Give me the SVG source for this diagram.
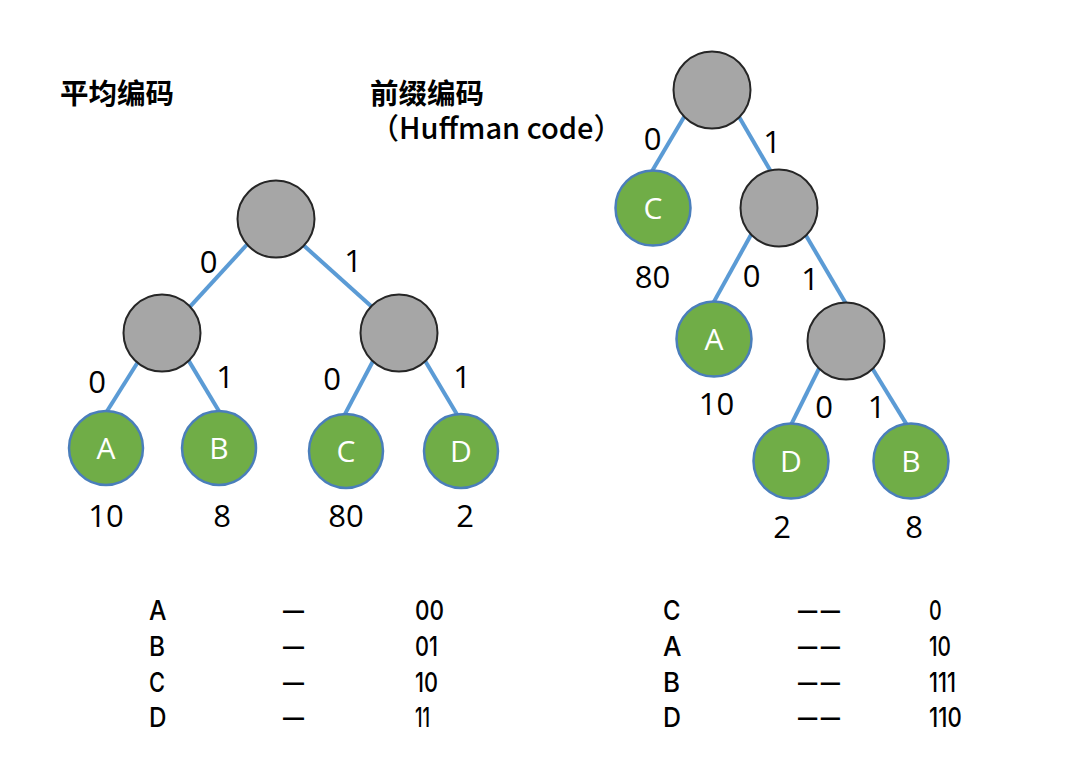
<svg xmlns="http://www.w3.org/2000/svg" width="1065" height="779" viewBox="0 0 1065 779">
<style>
.bg{fill:#ffffff}
.edge{stroke:#5B9BD5;stroke-width:4;fill:none;stroke-linecap:butt}
.inner{fill:#A6A6A6;stroke:#262626;stroke-width:2}
.leaf{fill:#70AD47;stroke:#4A7EBB;stroke-width:2.5}
.nl{font-family:"Open Sans","Noto Sans",sans-serif;font-size:30px;fill:#ffffff;text-anchor:middle}
.lbl{font-family:"Open Sans","Noto Sans",sans-serif;font-size:31px;fill:#000000;text-anchor:middle}
.title{font-family:"Noto Sans CJK SC","Noto Sans",sans-serif;font-size:28.5px;font-weight:700;fill:#000000}
.sub{font-family:"Noto Sans CJK SC","Noto Sans",sans-serif;font-size:29px;font-weight:500;fill:#000000}
.tb{font-family:Inter,"Liberation Sans",sans-serif;font-size:27px;font-weight:500;fill:#000000}
</style>
<rect class="bg" x="0" y="0" width="1065" height="779"/>

<g id="titles">
<text class="title" x="60" y="104">平均编码</text>
<text class="title" x="370" y="104">前缀编码</text>
<text class="sub" x="370" y="139">（Huffman code）</text>
</g>

<g id="connectors">
<line class="edge" x1="248.4" y1="243" x2="186.6" y2="310.4"/>
<line class="edge" x1="301.3" y1="243.3" x2="375.4" y2="310"/>
<line class="edge" x1="138.7" y1="360.8" x2="104" y2="416"/>
<line class="edge" x1="186.7" y1="357.4" x2="221.9" y2="416"/>
<line class="edge" x1="375" y1="357.3" x2="342.7" y2="418.4"/>
<line class="edge" x1="423.1" y1="357.4" x2="459.3" y2="418.3"/>
<line class="edge" x1="685.8" y1="114" x2="650.2" y2="174.3"/>
<line class="edge" x1="736.8" y1="113" x2="772.5" y2="174.3"/>
<line class="edge" x1="752.4" y1="232.3" x2="711.9" y2="305.4"/>
<line class="edge" x1="804.2" y1="232.4" x2="847.5" y2="306.3"/>
<line class="edge" x1="820.5" y1="365.5" x2="789.5" y2="427.8"/>
<line class="edge" x1="870.7" y1="365.7" x2="908.6" y2="427.6"/>
</g>

<g id="edge-labels">
<text class="lbl" x="208.5" y="273">0</text>
<text class="lbl" x="353" y="272">1</text>
<text class="lbl" x="97" y="393">0</text>
<text class="lbl" x="225" y="388">1</text>
<text class="lbl" x="332" y="390">0</text>
<text class="lbl" x="462" y="388">1</text>
<text class="lbl" x="652.5" y="150">0</text>
<text class="lbl" x="772" y="152.5">1</text>
<text class="lbl" x="751.5" y="286.5">0</text>
<text class="lbl" x="810" y="290">1</text>
<text class="lbl" x="824" y="418">0</text>
<text class="lbl" x="876.5" y="418">1</text>
</g>

<g id="L-root"><circle class="inner" cx="276" cy="219" r="38.5"/></g>
<g id="L-n0"><circle class="inner" cx="162" cy="333" r="38.5"/></g>
<g id="L-n1"><circle class="inner" cx="399" cy="333" r="38.5"/></g>
<g id="L-A"><circle class="leaf" cx="106" cy="448" r="37"/><text class="nl" x="106" y="459">A</text><text class="lbl" x="106" y="527">10</text></g>
<g id="L-B"><circle class="leaf" cx="219" cy="448" r="37"/><text class="nl" x="219" y="459">B</text><text class="lbl" x="222" y="527">8</text></g>
<g id="L-C"><circle class="leaf" cx="346" cy="451" r="37"/><text class="nl" x="346" y="462">C</text><text class="lbl" x="346" y="527">80</text></g>
<g id="L-D"><circle class="leaf" cx="461" cy="451" r="37"/><text class="nl" x="461" y="462">D</text><text class="lbl" x="465" y="527">2</text></g>

<g id="R-root"><circle class="inner" cx="712" cy="90" r="38.5"/></g>
<g id="R-C"><circle class="leaf" cx="653" cy="208" r="37.5"/><text class="nl" x="653" y="219">C</text><text class="lbl" x="652.5" y="288">80</text></g>
<g id="R-n1"><circle class="inner" cx="779" cy="208" r="38.5"/></g>
<g id="R-A"><circle class="leaf" cx="714" cy="339" r="37.5"/><text class="nl" x="714" y="350">A</text><text class="lbl" x="716.5" y="415">10</text></g>
<g id="R-n11"><circle class="inner" cx="846" cy="341" r="38.5"/></g>
<g id="R-D"><circle class="leaf" cx="791" cy="461" r="37.5"/><text class="nl" x="791" y="472">D</text><text class="lbl" x="782" y="538">2</text></g>
<g id="R-B"><circle class="leaf" cx="911" cy="461" r="37.5"/><text class="nl" x="911" y="472">B</text><text class="lbl" x="914" y="538">8</text></g>

<g id="table-left">
<text class="tb" x="149" y="620" textLength="17.5" lengthAdjust="spacingAndGlyphs">A</text>
<text class="tb" x="283" y="620" textLength="21" lengthAdjust="spacingAndGlyphs">—</text>
<text class="tb" x="415" y="620" textLength="29" lengthAdjust="spacingAndGlyphs">00</text>
<text class="tb" x="149" y="655.5" textLength="16" lengthAdjust="spacingAndGlyphs">B</text>
<text class="tb" x="283" y="655.5" textLength="21" lengthAdjust="spacingAndGlyphs">—</text>
<text class="tb" x="415" y="655.5" textLength="23" lengthAdjust="spacingAndGlyphs">01</text>
<text class="tb" x="149" y="691.5" textLength="16" lengthAdjust="spacingAndGlyphs">C</text>
<text class="tb" x="283" y="691.5" textLength="21" lengthAdjust="spacingAndGlyphs">—</text>
<text class="tb" x="415" y="691.5" textLength="23" lengthAdjust="spacingAndGlyphs">10</text>
<text class="tb" x="149" y="727" textLength="17.5" lengthAdjust="spacingAndGlyphs">D</text>
<text class="tb" x="283" y="727" textLength="21" lengthAdjust="spacingAndGlyphs">—</text>
<text class="tb" x="415" y="727" textLength="15" lengthAdjust="spacingAndGlyphs">11</text>
</g>

<g id="table-right">
<text class="tb" x="663" y="620" textLength="17.5" lengthAdjust="spacingAndGlyphs">C</text>
<text class="tb" x="798" y="620" textLength="45.5" lengthAdjust="spacingAndGlyphs" letter-spacing="5">——</text>
<text class="tb" x="929" y="620" textLength="12.7" lengthAdjust="spacingAndGlyphs">0</text>
<text class="tb" x="663" y="655.5" textLength="18.5" lengthAdjust="spacingAndGlyphs">A</text>
<text class="tb" x="798" y="655.5" textLength="45.5" lengthAdjust="spacingAndGlyphs" letter-spacing="5">——</text>
<text class="tb" x="929" y="655.5" textLength="22" lengthAdjust="spacingAndGlyphs">10</text>
<text class="tb" x="663" y="691.5" textLength="17" lengthAdjust="spacingAndGlyphs">B</text>
<text class="tb" x="798" y="691.5" textLength="45.5" lengthAdjust="spacingAndGlyphs" letter-spacing="5">——</text>
<text class="tb" x="929" y="691.5" textLength="27" lengthAdjust="spacingAndGlyphs">111</text>
<text class="tb" x="663" y="727" textLength="18" lengthAdjust="spacingAndGlyphs">D</text>
<text class="tb" x="798" y="727" textLength="45.5" lengthAdjust="spacingAndGlyphs" letter-spacing="5">——</text>
<text class="tb" x="929" y="727" textLength="32.7" lengthAdjust="spacingAndGlyphs">110</text>
</g>
</svg>
